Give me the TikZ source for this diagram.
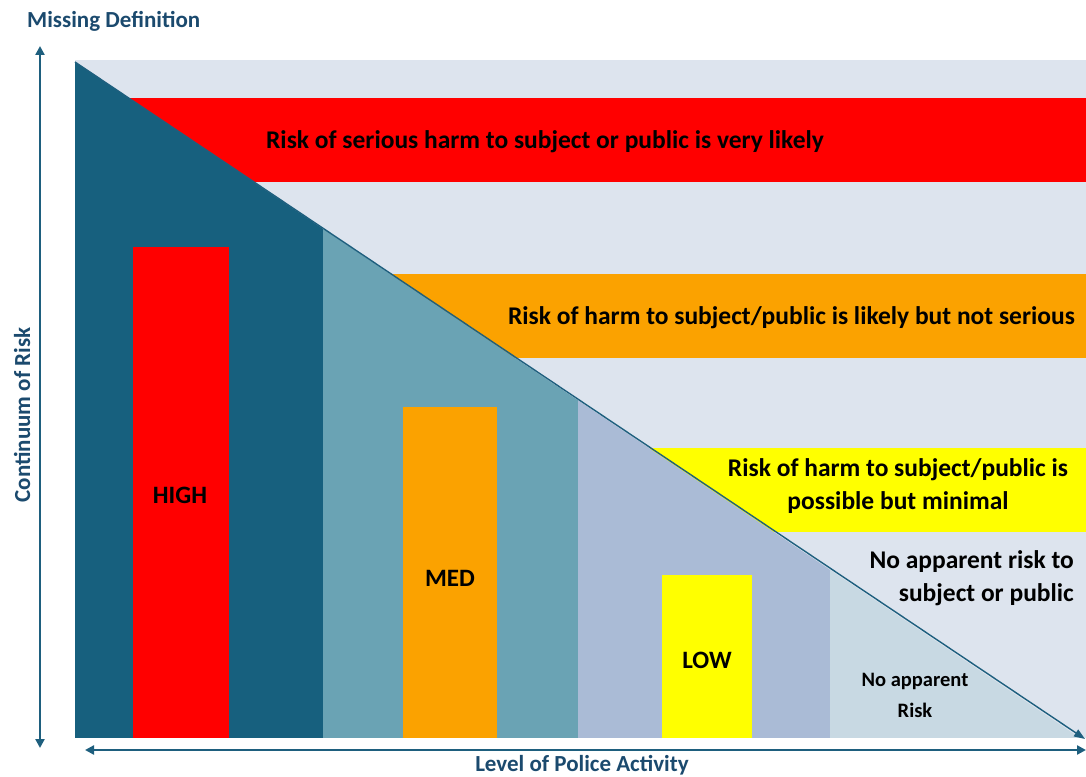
\documentclass[tikz,border=0pt]{standalone}
\usepackage{fontspec}
\setmainfont{Carlito}
\usetikzlibrary{arrows.meta}
\definecolor{bg}{HTML}{DDE4EE}
\definecolor{bandred}{HTML}{FF0000}
\definecolor{bandorange}{HTML}{FBA200}
\definecolor{bandyellow}{HTML}{FFFF00}
\definecolor{colA}{HTML}{17607E}
\definecolor{colB}{HTML}{6AA3B4}
\definecolor{colC}{HTML}{AABBD6}
\definecolor{colD}{HTML}{C8D9E3}
\definecolor{axis}{HTML}{1E5F7E}
\definecolor{axtext}{HTML}{1B4A6E}
\tikzset{
  bandtext/.style={font=\bfseries\fontsize{25.5}{33}\selectfont, text=black, inner sep=0pt},
  bartext/.style={font=\bfseries\fontsize{25}{30}\selectfont, text=black, inner sep=0pt},
  smalltext/.style={font=\bfseries\fontsize{20.5}{31}\selectfont, text=black, inner sep=0pt},
  axlabel/.style={font=\bfseries\fontsize{23}{26}\selectfont, text=axtext, inner sep=0pt},
  axarrow/.style={draw=axis, line width=2.6pt, {Triangle[length=9pt,width=9pt]}-{Triangle[length=9pt,width=9pt]}},
  diagline/.style={draw=axis, line width=1.4pt, -{Triangle[length=11pt,width=8pt]}}
}
\begin{document}
\begin{tikzpicture}[x=1pt,y=-1pt]
\useasboundingbox (0,0) rectangle (1086,776);
% background panel
\fill[bg] (75,60) rectangle (1086,738);
% risk bands
\fill[bandred] (128,98) rectangle (1086,182);
\fill[bandorange] (390,274) rectangle (1086,358);
\fill[bandyellow] (650,448) rectangle (1086,532);
% columns under the diagonal
\begin{scope}
\clip (75,62) -- (1080,738) -- (75,738) -- cycle;
\fill[colA] (75,60) rectangle (323,738);
\fill[colB] (323,60) rectangle (578,738);
\fill[colC] (578,60) rectangle (830,738);
\fill[colD] (830,60) rectangle (1086,738);
\end{scope}
% bars
\fill[bandred] (133,247) rectangle (229,738);
\fill[bandorange] (403,407) rectangle (497,738);
\fill[bandyellow] (662,575) rectangle (752,738);
% diagonal
\coordinate (dtop) at (75,62);
\coordinate (dend) at (1085,739);
\draw[diagline] (dtop) -- (dend);
% band texts
\node[bandtext] (t1) at (545,142) {Risk of serious harm to subject or public is very likely};
\node[bandtext, anchor=east] (t2) at (1075,318) {Risk of harm to subject/public is likely but not serious};
\node[bandtext, align=center] (t3) at (898,486) {Risk of harm to subject/public is\\possible but minimal};
\node[bandtext, align=right, anchor=east] (t4) at (1074,578) {No apparent risk to\\subject or public};
\node[smalltext, align=center] (t5) at (915,695) {No apparent\\Risk};
% bar labels
\node[bartext] (high) at (180,495) {HIGH};
\node[bartext] (med) at (450,578) {MED};
\node[bartext] (low) at (707,660) {LOW};
% axes
\coordinate (vtop) at (40,46);
\coordinate (vbot) at (40,748);
\draw[axarrow] (vbot) -- (vtop);
\coordinate (hl) at (85,750);
\coordinate (hr) at (1086,750);
\draw[axarrow] (hl) -- (hr);
\node[axlabel, anchor=west] (ymax) at (27,21) {Missing Definition};
\node[axlabel, rotate=90] (ylab) at (22,415) {Continuum of Risk};
\node[axlabel] (xlab) at (582,765) {Level of Police Activity};
\end{tikzpicture}
\end{document}
